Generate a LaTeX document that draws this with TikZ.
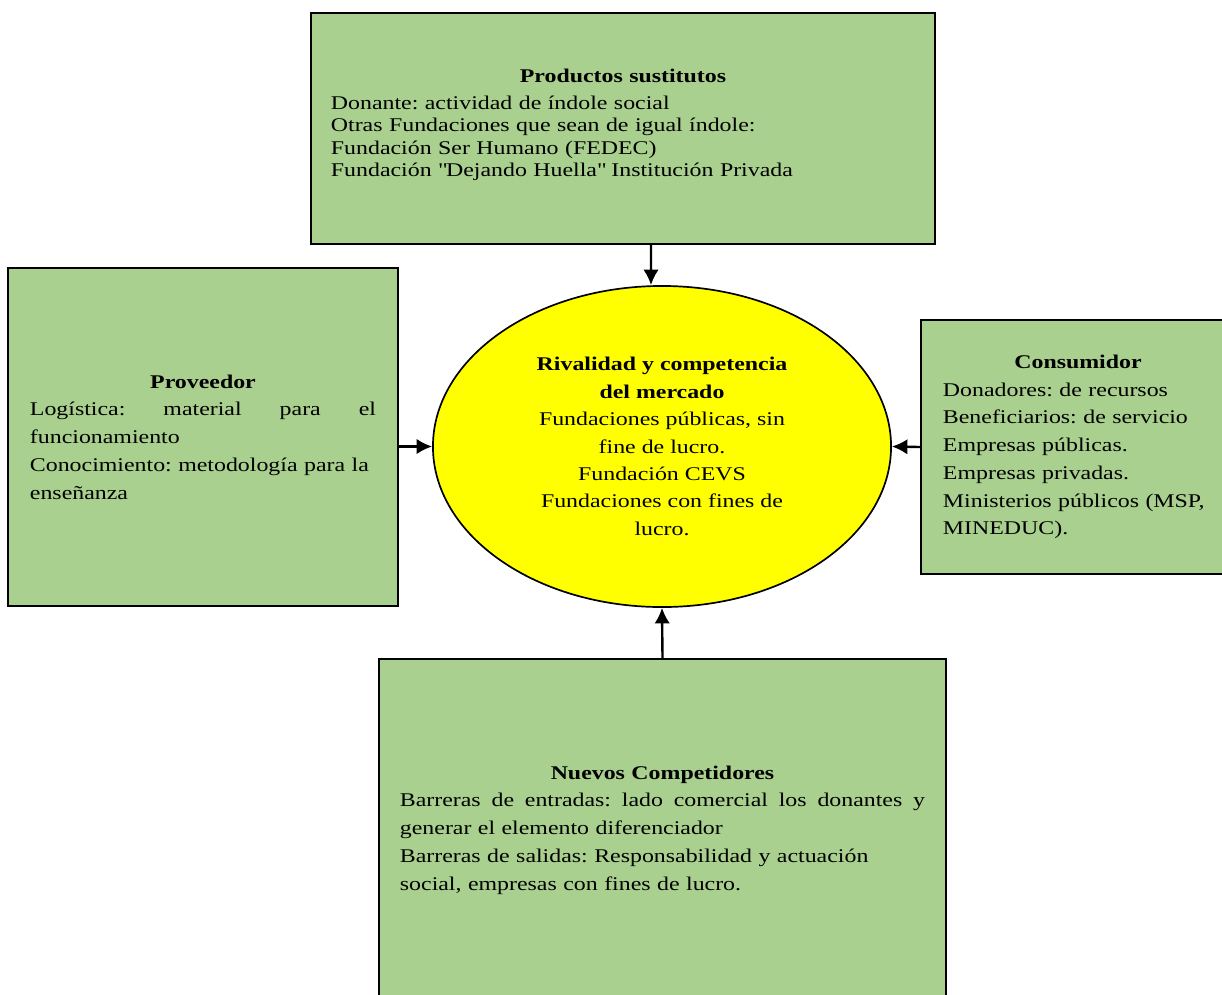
\documentclass[tikz,border=0pt]{standalone}
\usepackage{fontspec}
\setmainfont{Liberation Serif}[FakeStretch=1.23]
\usetikzlibrary{arrows.meta}
\usetikzlibrary{positioning}
\usetikzlibrary{shapes.geometric}
\definecolor{boxgreen}{HTML}{A9D08E}
\definecolor{rivalyellow}{HTML}{FFFF00}

\begin{document}
\frenchspacing
\begin{tikzpicture}[
  x=0.025cm, y=-0.025cm,
  > = {Latex[length=11pt,width=11pt]},
  greenbox/.style = {draw,line width=1.6pt,fill=boxgreen,rectangle,align=left,inner sep=0pt,
    font=\fontsize{13.8}{19.7}\selectfont},
  rivalnode/.style = {draw,line width=1.2pt,fill=rivalyellow,ellipse,align=center,inner sep=0pt,
    minimum width=11.45cm,minimum height=8.025cm,font=\fontsize{13.8}{19.5}\selectfont},
  conn/.style = {->,line width=1.7pt}
  ]
	\useasboundingbox (0,0) rectangle (1222,994);

	\node[greenbox,minimum width=15.6cm,minimum height=5.775cm,text width=14.6cm,
	  font=\fontsize{13.8}{15.95}\selectfont,text depth=75pt] (prod) at (623,128.5)
	  {\makebox[\linewidth]{\textbf{Productos sustitutos}}\\[3pt]
	   Donante: actividad de índole social\\
	   Otras Fundaciones que sean de igual índole:\\
	   Fundación Ser Humano (FEDEC)\\
	   Fundación \textquotedbl Dejando Huella\textquotedbl\ Institución Privada};

	\node[greenbox,minimum width=9.75cm,minimum height=8.45cm,text width=8.65cm] (prov) at (203,437)
	  {\makebox[\linewidth]{\textbf{Proveedor}}\\
	   \makebox[\linewidth][l]{Logística:\hfill material\hfill para\hfill el}\\
	   funcionamiento\\
	   Conocimiento: metodología para la\\
	   enseñanza};

	\node[greenbox,minimum width=7.85cm,minimum height=6.35cm,text width=6.75cm] (cons) at (1078,447)
	  {\makebox[\linewidth]{\textbf{Consumidor}}\\
	   Donadores: de recursos\\
	   Beneficiarios: de servicio\\
	   Empresas públicas.\\
	   Empresas privadas.\\
	   Ministerios públicos (MSP,\\
	   MINEDUC).};

	\node[greenbox,minimum width=14.175cm,minimum height=8.55cm,text width=13.125cm] (nuevos) at (662.5,830)
	  {\makebox[\linewidth]{\textbf{Nuevos Competidores}}\\
	   \makebox[\linewidth][l]{Barreras\hfill de\hfill entradas:\hfill lado\hfill comercial\hfill los\hfill donantes\hfill y}\\
	   generar el elemento diferenciador\\
	   Barreras de salidas: Responsabilidad y actuación\\
	   social, empresas con fines de lucro.};

	\node[rivalnode] (rival) at (662,446.5)
	  {\textbf{Rivalidad y competencia}\\
	   \textbf{del mercado}\\
	   Fundaciones públicas, sin\\
	   fine de lucro.\\
	   Fundación CEVS\\
	   Fundaciones con fines de\\
	   lucro.};

	\draw[conn] ([xshift=0.7cm]prod.south) -- ([xshift=-0.275cm]rival.north);
	\draw[conn] (prov.east |- rival.west) -- (rival.west);
	\draw[conn] (cons.west) -- (rival.east);
	\draw[conn] (nuevos.north) -- (rival.south);

\end{tikzpicture}
\end{document}
